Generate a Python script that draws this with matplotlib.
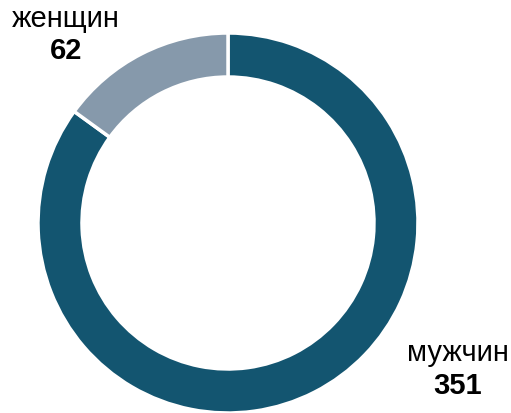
import matplotlib.pyplot as plt

# gender split
labels = ["мужчин", "женщин"]
counts = [351, 62]
colors = ["#135570", "#8699ab"]

plt.rcParams['font.family'] = ['Liberation Sans', 'DejaVu Sans']

fig = plt.figure(figsize=(5.11, 4.14), dpi=100)
ax = fig.add_axes([0, 0, 1, 1])

# pixel-like coordinates, y measured from the bottom
ax.pie(counts, colors=colors, startangle=90, counterclock=False,
       radius=190, center=(228, 190),
       wedgeprops=dict(width=44, edgecolor="white", linewidth=2.5))
ax.set_xlim(0, 511)
ax.set_ylim(0, 414)
ax.set_aspect("equal")
ax.axis("off")

# labels
ax.text(66, 414 - 19, labels[1], ha="center", va="center", fontsize=21)
ax.text(66, 414 - 51, str(counts[1]), ha="center", va="center",
        fontsize=21, fontweight="bold")
ax.text(458, 414 - 353, labels[0], ha="center", va="center", fontsize=21)
ax.text(458, 414 - 386, str(counts[0]), ha="center", va="center",
        fontsize=21, fontweight="bold")

fig.savefig("out.png", dpi=100)
